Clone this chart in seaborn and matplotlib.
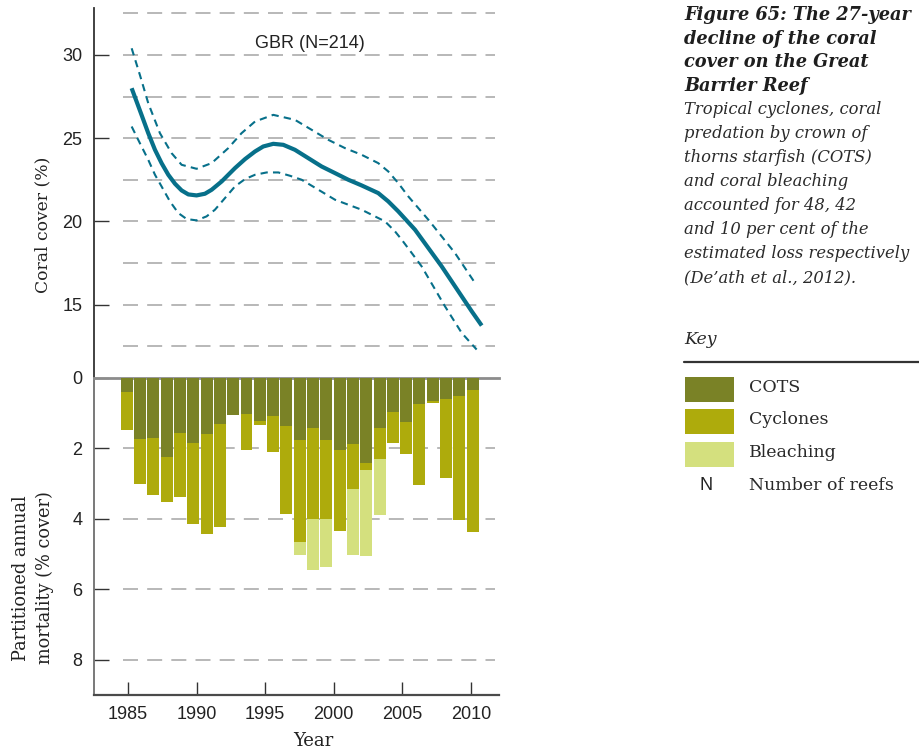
import matplotlib
matplotlib.use("Agg")
import matplotlib.pyplot as plt
from matplotlib.patches import Rectangle
from matplotlib.lines import Line2D
import seaborn as sns

# Partitioned annual mortality (% cover) by cause, one bar per year
years = list(range(1985, 2012))
cots = [0.41, 1.74, 1.71, 2.25, 1.57, 1.86, 1.60, 1.32, 1.07, 1.03, 1.23, 1.09, 1.37,
        1.77, 1.43, 1.77, 2.05, 1.88, 2.42, 1.43, 0.98, 1.26, 0.75, 0.68, 0.61, 0.52, 0.35]
cyclones = [1.07, 1.29, 1.61, 1.27, 1.81, 2.28, 2.85, 2.93, 0.00, 1.02, 0.11, 1.01, 2.49,
            2.89, 2.58, 2.24, 2.29, 1.28, 0.20, 0.88, 0.89, 0.91, 2.31, 0.03, 2.23, 3.52, 4.02]
bleaching = [0, 0, 0, 0, 0, 0, 0, 0, 0, 0, 0, 0, 0,
             0.36, 1.44, 1.36, 0, 1.86, 2.44, 1.60, 0, 0, 0, 0, 0, 0, 0]

# Fitted coral cover trend (%) with its upper and lower confidence band
fit_year = [1985.27, 1985.63, 1985.99, 1986.48, 1986.97, 1987.45, 1987.94, 1988.43,
            1988.91, 1989.40, 1990.00, 1990.61, 1991.10, 1991.83, 1992.80, 1993.53,
            1994.26, 1994.86, 1995.59, 1996.32, 1997.17, 1998.14, 1999.11, 2000.09,
            2001.06, 2002.03, 2003.24, 2003.97, 2004.70, 2005.92, 2006.89, 2007.86,
            2008.59, 2009.32, 2010.05, 2010.78]
fit_cover = [28.0, 27.2, 26.4, 25.3, 24.3, 23.5, 22.8, 22.26,
             21.86, 21.62, 21.56, 21.66, 21.9, 22.4, 23.2, 23.74,
             24.2, 24.5, 24.66, 24.6, 24.3, 23.8, 23.3, 22.9,
             22.5, 22.16, 21.7, 21.2, 20.6, 19.5, 18.4, 17.3,
             16.4, 15.5, 14.6, 13.74]
upper_year = [1985.27, 1985.87, 1986.48, 1987.33, 1988.18, 1988.91, 1990.00, 1991.10,
              1992.31, 1993.28, 1994.26, 1995.59, 1997.17, 1998.39, 1999.60, 2000.82,
              2002.03, 2003.24, 2003.97, 2004.70, 2005.43, 2006.16, 2006.89, 2007.86,
              2008.83, 2009.56, 2010.29]
upper_cover = [30.4, 28.8, 27.1, 25.3, 24.1, 23.4, 23.16, 23.5,
               24.4, 25.3, 26.0, 26.4, 26.1, 25.5, 24.9, 24.4,
               24.0, 23.5, 23.0, 22.3, 21.5, 20.8, 20.1, 19.1,
               18.1, 17.2, 16.3]
lower_year = [1985.27, 1985.87, 1986.48, 1986.97, 1987.45, 1988.06, 1988.67, 1989.28,
              1990.00, 1990.73, 1991.34, 1992.07, 1992.80, 1993.53, 1994.26, 1995.11,
              1995.96, 1996.81, 1997.66, 1998.88, 2000.09, 2001.06, 2002.03, 2003.00,
              2003.73, 2004.46, 2004.95, 2005.68, 2006.40, 2007.25, 2008.10, 2008.71,
              2009.32, 2010.41]
lower_cover = [25.7, 24.7, 23.7, 22.8, 22.1, 21.2, 20.5, 20.14,
               20.06, 20.3, 20.7, 21.4, 22.1, 22.54, 22.8, 22.94,
               22.94, 22.74, 22.5, 21.9, 21.3, 21.0, 20.7, 20.3,
               20.0, 19.4, 18.9, 18.1, 17.3, 16.1, 14.9, 14.1,
               13.3, 12.3]

cover_ticks = [15, 20, 25, 30]
cover_grid = [12.5, 15, 17.5, 20, 22.5, 25, 27.5, 30, 32.5]
mort_ticks = [0, 2, 4, 6, 8]
year_ticks = [1985, 1990, 1995, 2000, 2005, 2010]

legend_labels = ["COTS", "Cyclones", "Bleaching"]
legend_colors = ["#7a8226", "#aeab0c", "#d4e07e"]
teal = "#07708a"
grid_col = "#ababab"
serif = ["DejaVu Serif"]

sns.set_theme(style="white")
plt.rcParams["font.family"] = ["Liberation Sans", "DejaVu Sans"]

W_PX, H_PX = 919, 750
fig = plt.figure(figsize=(W_PX / 100, H_PX / 100), dpi=100)


def fx(px):
    return px / W_PX


def fy(py):
    return 1 - py / H_PX


left, width = fx(93.5), (499 - 93.5) / W_PX
ax_top = fig.add_axes([left, fy(377.5), width, (377.5 - 8) / H_PX])
ax_bot = fig.add_axes([left, fy(695), width, (695 - 377.5) / H_PX])

# ---- coral cover panel ----
for v in cover_grid:
    ax_top.axhline(v, xmin=0.073, xmax=0.99, color=grid_col, lw=1.2,
                   dashes=(9, 5.5), zorder=0)
sns.lineplot(x=upper_year, y=upper_cover, ax=ax_top, color=teal, linewidth=1.5)
sns.lineplot(x=lower_year, y=lower_cover, ax=ax_top, color=teal, linewidth=1.5)
for ln in ax_top.lines[-2:]:
    ln.set_dashes((3.5, 2.5))
sns.lineplot(x=fit_year, y=fit_cover, ax=ax_top, color=teal, linewidth=3,
             solid_capstyle="butt", solid_joinstyle="round")
ax_top.set_xlim(1982.49, 2012.04)
ax_top.set_ylim(10.62, 32.82)
ax_top.set_xticks([])
ax_top.set_yticks(cover_ticks)
ax_top.set_xlabel("")
ax_top.set_ylabel("")
for s in ["top", "right", "bottom"]:
    ax_top.spines[s].set_visible(False)
ax_top.spines["left"].set_color("#333333")
ax_top.spines["left"].set_linewidth(1.3)
ax_top.tick_params(axis="y", direction="in", length=10.5, width=1.0, color="#333333",
                   pad=8, labelsize=13, labelcolor="#222222", left=True)
fig.text(fx(310), fy(43), "GBR (N=214)", ha="center", va="center", fontsize=13,
         color="#222222")

# ---- mortality panel ----
for v in mort_ticks[1:]:
    ax_bot.axhline(v, xmin=0.073, xmax=0.99, color=grid_col, lw=1.2,
                   dashes=(9, 5.5), zorder=0)
ax_bot.set_xlim(1982.49, 2012.04)
ax_bot.set_ylim(9.0, 0)
ax_bot.set_yticks(mort_ticks)
ax_bot.set_xticks(year_ticks)
ax_bot.set_xticklabels([str(y) for y in year_ticks])
ax_bot.spines["right"].set_visible(False)
ax_bot.spines["top"].set_color("#8c8c8c")
ax_bot.spines["top"].set_linewidth(2)
ax_bot.spines["left"].set_color("#6e6e6e")
ax_bot.spines["left"].set_linewidth(1.3)
ax_bot.spines["bottom"].set_color("#4a4a4a")
ax_bot.spines["bottom"].set_linewidth(1.6)
ax_bot.tick_params(axis="y", direction="in", length=10.5, width=1.0, color="#333333",
                   pad=8, labelsize=13, labelcolor="#222222", left=True)
ax_bot.tick_params(axis="x", direction="in", length=9.5, width=1.0, color="#333333",
                   pad=8, labelsize=13, labelcolor="#222222", bottom=True, top=False)

# bars live on a twin x-axis with their own spacing
ax_bars = ax_bot.twiny()
totals = [a + b + c for a, b, c in zip(cots, cyclones, bleaching)]
cots_cyc = [a + b for a, b in zip(cots, cyclones)]
for vals, col in [(totals, legend_colors[2]), (cots_cyc, legend_colors[1]),
                  (cots, legend_colors[0])]:
    sns.barplot(x=years, y=vals, native_scale=True, orient="x", color=col,
                saturation=1, width=0.9, errorbar=None, linewidth=0, ax=ax_bars)
ax_bars.set_xlim(1982.50, 2012.98)
ax_bars.set_ylim(9.0, 0)
ax_bars.set_xticks([])
ax_bars.set_xlabel("")
ax_bars.set_ylabel("")
for s in ax_bars.spines.values():
    s.set_visible(False)
ax_bars.tick_params(axis="both", length=0, labeltop=False, labelbottom=False)

# ---- axis titles ----
fig.text(fx(43), fy(225), "Coral cover (%)", rotation=90, ha="center", va="center",
         family=serif, fontsize=12.3, color="#222222")
fig.text(fx(33), fy(578), "Partitioned annual\nmortality (% cover)", rotation=90,
         ha="center", va="center", multialignment="center", family=serif,
         fontsize=12.8, color="#222222", linespacing=1.45)
fig.text(fx(313), fy(741), "Year", ha="center", va="center", family=serif,
         fontsize=13, color="#222222")

# ---- caption ----
title_lines = ["Figure 65: The 27-year", "decline of the coral",
               "cover on the Great", "Barrier Reef"]
title_y = [15, 38.5, 62, 86]
body_lines = ["Tropical cyclones, coral", "predation by crown of",
              "thorns starfish (COTS)", "and coral bleaching",
              "accounted for 48, 42", "and 10 per cent of the",
              "estimated loss respectively", "(De\u2019ath et al., 2012)."]
body_y = [110, 134, 158, 182, 206, 230, 254, 278]
for t, y in zip(title_lines, title_y):
    fig.text(fx(684), fy(y), t, ha="left", va="center", family=serif, fontsize=12.8,
             fontweight="bold", fontstyle="italic", color="#1e1e1e")
for t, y in zip(body_lines, body_y):
    fig.text(fx(684), fy(y), t, ha="left", va="center", family=serif, fontsize=11.8,
             fontstyle="italic", color="#2a2a2a")

# ---- key ----
fig.text(fx(684), fy(340), "Key", ha="left", va="center", family=serif, fontsize=12.5,
         fontstyle="italic", color="#2a2a2a")
fig.add_artist(Line2D([fx(684), fx(919)], [fy(361.5), fy(361.5)], color="#333333",
                      lw=1.6, transform=fig.transFigure))
key_y = [389.5, 421.5, 454.5]
for lab, col, y in zip(legend_labels, legend_colors, key_y):
    fig.add_artist(Rectangle((fx(685), fy(y + 12.5)), 49 / W_PX, 25 / H_PX,
                             facecolor=col, edgecolor="none", transform=fig.transFigure))
    fig.text(fx(749), fy(y - 2), lab, ha="left", va="center", family=serif,
             fontsize=12.5, color="#2a2a2a")
fig.text(fx(706), fy(486), "N", ha="center", va="center", fontsize=13, color="#222222")
fig.text(fx(749), fy(486), "Number of reefs", ha="left", va="center", family=serif,
         fontsize=12.5, color="#2a2a2a")

fig.savefig("out.png", dpi=100)
